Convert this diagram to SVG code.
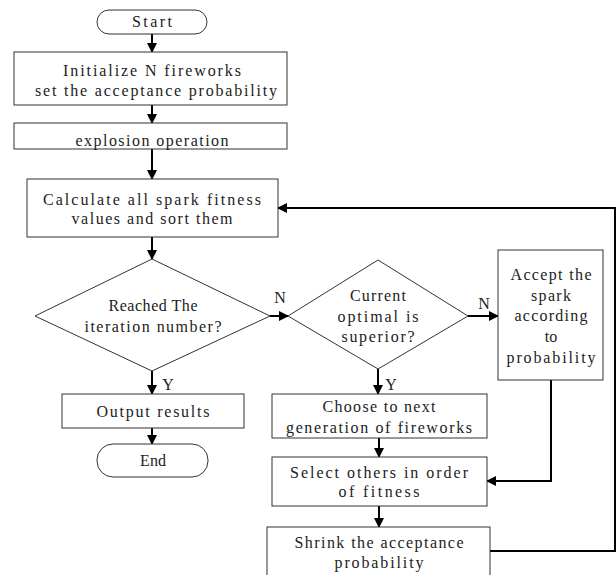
<svg xmlns="http://www.w3.org/2000/svg" width="616" height="575" viewBox="0 0 616 575">
<style>
.box{fill:#fff;stroke:#333;stroke-width:1}
.t{font-family:"Liberation Serif","Times New Roman",serif;font-size:16px;fill:#222;text-anchor:middle}
.c{fill:none;stroke:#000;stroke-width:2}
</style>
<defs>
<marker id="ah" markerUnits="userSpaceOnUse" markerWidth="10" markerHeight="10" refX="9" refY="5" orient="auto">
<path d="M0,0 L10,5 L0,10 Z" fill="#000"/>
</marker>
</defs>
<rect width="616" height="575" fill="#fff"/>
<g id="connectors">
<path class="c" d="M152,34 V52" marker-end="url(#ah)"/>
<path class="c" d="M152,105 V123" marker-end="url(#ah)"/>
<path class="c" d="M152,149 V179" marker-end="url(#ah)"/>
<path class="c" d="M152,237 V259" marker-end="url(#ah)"/>
<path class="c" d="M270,316 H288" marker-end="url(#ah)"/>
<path class="c" d="M468,316 H498" marker-end="url(#ah)"/>
<path class="c" d="M152,371 V394" marker-end="url(#ah)"/>
<path class="c" d="M152,428 V444" marker-end="url(#ah)"/>
<path class="c" d="M378,369 V394" marker-end="url(#ah)"/>
<path class="c" d="M379,438 V457" marker-end="url(#ah)"/>
<path class="c" d="M551,380 V481 H487" marker-end="url(#ah)"/>
<path class="c" d="M379,506 V527" marker-end="url(#ah)"/>
<path class="c" d="M490,551 H615 V208 H278" marker-end="url(#ah)"/>
<text class="t" x="280" y="303">N</text>
<text class="t" x="484" y="309">N</text>
<text class="t" x="168" y="390">Y</text>
<text class="t" x="391" y="390">Y</text>
</g>
<g id="start">
<rect class="box" x="97" y="10" width="110" height="24" rx="12"/>
<text class="t" x="152" y="27" textLength="40">Start</text>
</g>
<g id="init">
<rect class="box" x="14" y="52" width="273" height="53"/>
<text class="t" x="152" y="76" textLength="178">Initialize N fireworks</text>
<text class="t" x="156" y="96" textLength="242">set the acceptance probability</text>
</g>
<g id="explosion">
<rect class="box" x="14" y="123" width="273" height="26"/>
<text class="t" x="152" y="146" textLength="153">explosion operation</text>
</g>
<g id="calculate">
<rect class="box" x="27" y="179" width="251" height="58"/>
<text class="t" x="152" y="205" textLength="218">Calculate all spark fitness</text>
<text class="t" x="152" y="224" textLength="161">values and sort them</text>
</g>
<g id="reached">
<polygon class="box" points="152,259 270,316 152,371 35,316"/>
<text class="t" x="153" y="311" textLength="89">Reached The</text>
<text class="t" x="153" y="332" textLength="137">iteration number?</text>
</g>
<g id="current">
<polygon class="box" points="378,260 468,316 378,369 288,316"/>
<text class="t" x="378" y="301" textLength="56">Current</text>
<text class="t" x="378" y="322" textLength="81">optimal is</text>
<text class="t" x="378" y="342" textLength="73">superior?</text>
</g>
<g id="accept">
<rect class="box" x="498" y="250" width="105" height="130"/>
<text class="t" x="551" y="280" textLength="81">Accept the</text>
<text class="t" x="551" y="301" textLength="40">spark</text>
<text class="t" x="551" y="321" textLength="73">according</text>
<text class="t" x="551" y="342">to</text>
<text class="t" x="551" y="363" textLength="89">probability</text>
</g>
<g id="output">
<rect class="box" x="62" y="394" width="182" height="34"/>
<text class="t" x="153" y="417" textLength="113">Output results</text>
</g>
<g id="end">
<rect class="box" x="97" y="444" width="111" height="33" rx="16"/>
<text class="t" x="153" y="466">End</text>
</g>
<g id="choose">
<rect class="box" x="272" y="394" width="215" height="44"/>
<text class="t" x="379" y="412" textLength="113">Choose to next</text>
<text class="t" x="379" y="433" textLength="186">generation of fireworks</text>
</g>
<g id="select">
<rect class="box" x="272" y="457" width="215" height="49"/>
<text class="t" x="379" y="478" textLength="178">Select others in order</text>
<text class="t" x="379" y="497" textLength="81">of fitness</text>
</g>
<g id="shrink">
<rect class="box" x="267" y="527" width="223" height="52"/>
<text class="t" x="379" y="548" textLength="169">Shrink the acceptance</text>
<text class="t" x="379" y="568" textLength="89">probability</text>
</g>
</svg>
